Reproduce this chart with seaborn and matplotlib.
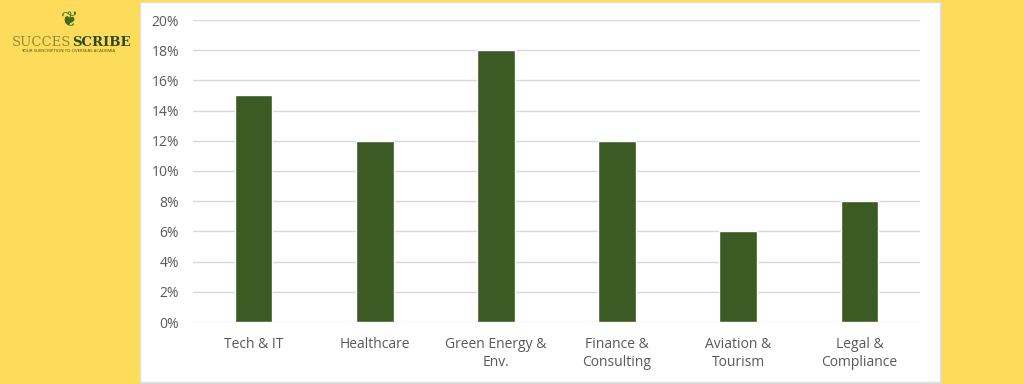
import matplotlib
matplotlib.use("Agg")
import matplotlib.pyplot as plt
import seaborn as sns
import pandas as pd
from matplotlib.ticker import FuncFormatter

categories = ["Tech & IT", "Healthcare", "Green Energy &\nEnv.", "Finance &\nConsulting",
              "Aviation &\nTourism", "Legal &\nCompliance"]
values = [15, 12, 18, 12, 6, 8]
yticks = [0, 2, 4, 6, 8, 10, 12, 14, 16, 18, 20]

df = pd.DataFrame({"sector": categories, "share": values})

sns.set_theme(style="white")
plt.rcParams['font.family'] = ['Open Sans', 'DejaVu Sans']

fig = plt.figure(figsize=(10.24, 3.84), dpi=100)
fig.patch.set_facecolor("#FDDC5C")

# white panel as a background axes
bg = fig.add_axes([140/1024, 2/384, 800/1024, 380/384], zorder=-5)
bg.set_facecolor("white")
bg.set_xticks([])
bg.set_yticks([])
for s in bg.spines.values():
    s.set_color("#E0E0E0")
    s.set_linewidth(1.0)

ax = fig.add_axes([193/1024, 1-322/384, 727/1024, (322-20)/384], zorder=1)
ax.set_facecolor("none")
sns.barplot(data=df, x="sector", y="share", color="#3B5A24", width=0.31, ax=ax,
            saturation=1, zorder=3)
ax.set_ylim(0, 20)
ax.set_yticks(yticks)
ax.yaxis.set_major_formatter(FuncFormatter(lambda v, p: f"{int(v)}%"))
ax.grid(axis="y", color="#D9D9D9", linewidth=1.0, zorder=0)
ax.set_axisbelow(True)
for s in ax.spines.values():
    s.set_visible(False)
ax.tick_params(axis="both", length=0, colors="#595959", labelsize=10)
ax.tick_params(axis="y", pad=10)
ax.tick_params(axis="x", pad=11)
for lbl in ax.get_xticklabels():
    lbl.set_linespacing(1.25)
ax.set_xlabel("")
ax.set_ylabel("")

# logo
renderer = fig.canvas.get_renderer()
t1 = fig.text(12/1024, 1-42/384, "SUCCES", fontsize=9.5, family="DejaVu Serif",
              color="#9A8A2A", ha="left", va="center")
bb = t1.get_window_extent(renderer=renderer)
fig.text(bb.x1/1024 + 0.5/1024, 1-42/384, "SCRIBE", fontsize=9.5, family="DejaVu Serif",
         color="#2F4A1A", ha="left", va="center", fontweight="bold")
fig.text(68/1024, 1-51/384, "YOUR SUBSCRIPTION TO OVERSEAS ACADEMIA", fontsize=3.2,
         color="#3A4A1A", ha="center", va="center")
fig.text(70/1024, 1-20/384, "❦", fontsize=15, color="#3E6B1E", ha="center", va="center",
         family="DejaVu Sans")

fig.savefig("out.png", dpi=100, facecolor=fig.get_facecolor())
